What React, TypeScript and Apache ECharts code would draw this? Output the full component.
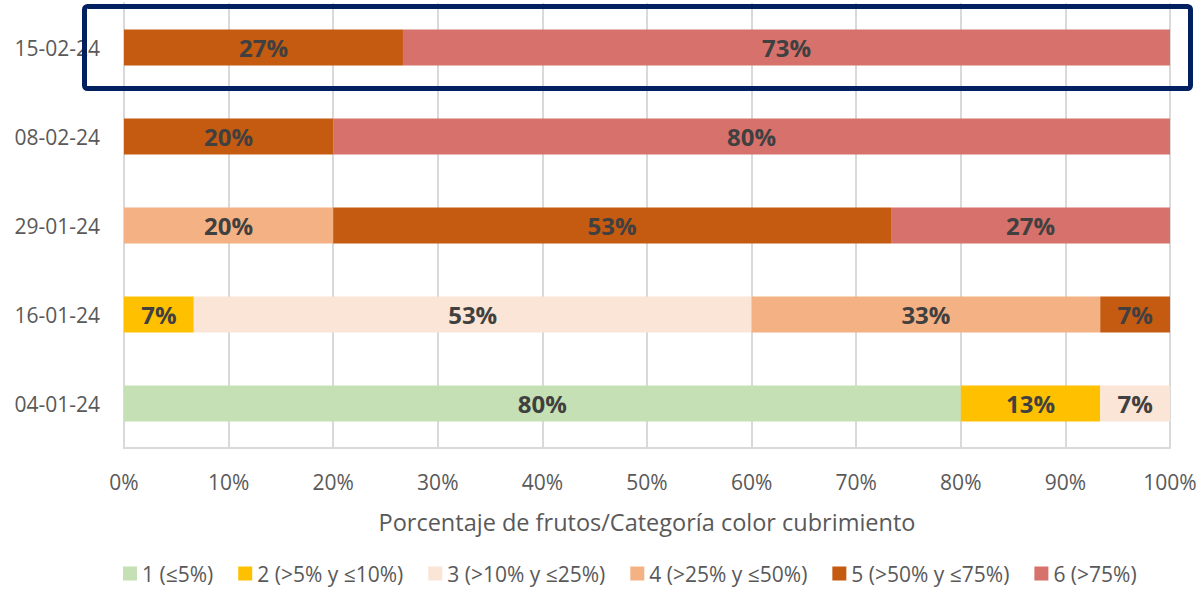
import React, { useEffect, useRef } from "react";
import * as echarts from "echarts";

const categories = ["04-01-24", "16-01-24", "29-01-24", "08-02-24", "15-02-24"];
const seriesNames = [
  "1 (≤5%)",
  "2 (>5% y ≤10%)",
  "3 (>10% y ≤25%)",
  "4 (>25% y ≤50%)",
  "5 (>50% y ≤75%)",
  "6 (>75%)",
];
const colors = ["#c5e0b4", "#ffc000", "#fbe5d6", "#f4b183", "#c55a11", "#d6716c"];
const cat1 = [80, null, null, null, null];
const cat2 = [13.33, 6.67, null, null, null];
const cat3 = [6.67, 53.33, null, null, null];
const cat4 = [null, 33.33, 20, null, null];
const cat5 = [null, 6.67, 53.33, 20, 26.67];
const cat6 = [null, null, 26.67, 80, 73.33];
const seriesData = [cat1, cat2, cat3, cat4, cat5, cat6];
const xTicks = [0, 10, 20, 30, 40, 50, 60, 70, 80, 90, 100];
const axisTitle = "Porcentaje de frutos/Categoría color cubrimiento";

const FONT = "'Open Sans', 'Noto Sans', sans-serif";

export default function App() {
  const ref = useRef<HTMLDivElement>(null);
  useEffect(() => {
    if (!ref.current) return;
    const chart = echarts.init(ref.current, undefined, { renderer: "svg" });
    chart.setOption({
      animation: false,
      textStyle: { fontFamily: FONT },
      grid: { left: 124, right: 31, top: 3, bottom: 141, containLabel: false },
      legend: {
        top: 563,
        left: 123,
        padding: 0,
        itemWidth: 14,
        itemHeight: 14,
        itemGap: 25,
        icon: "rect",
        textStyle: { fontSize: 21, color: "#595959", fontFamily: FONT },
        data: seriesNames,
      },
      xAxis: {
        type: "value",
        min: xTicks[0],
        max: xTicks[xTicks.length - 1],
        interval: 10,
        name: axisTitle,
        nameLocation: "middle",
        nameGap: 62,
        nameTextStyle: { fontSize: 23.5, color: "#595959", fontFamily: FONT },
        axisLine: { show: true, lineStyle: { color: "#d9d9d9", width: 2 } },
        axisTick: { show: false },
        axisLabel: {
          formatter: (v: number) => v + "%",
          fontSize: 21,
          color: "#595959",
          margin: 23,
          fontFamily: FONT,
        },
        splitLine: { show: true, lineStyle: { color: "#d9d9d9", width: 2 } },
      },
      yAxis: {
        type: "category",
        data: categories,
        axisLine: { show: true, lineStyle: { color: "#d9d9d9", width: 2 } },
        axisTick: { show: false },
        axisLabel: { fontSize: 21, color: "#595959", margin: 24, fontFamily: FONT },
        splitLine: { show: false },
      },
      series: seriesNames.map((name, i) => ({
        name,
        type: "bar",
        stack: "total",
        barWidth: 36,
        data: seriesData[i],
        itemStyle: { color: colors[i] },
        label: {
          show: true,
          position: "inside",
          formatter: (p: any) => Math.round(p.value) + "%",
          fontSize: 24,
          fontWeight: "bold",
          color: "#404040",
          fontFamily: FONT,
        },
      })),
      graphic: [
        {
          type: "rect",
          z: 100,
          shape: { x: 84.5, y: 6.5, width: 1106, height: 82, r: 3 },
          style: { fill: "none", stroke: "#002060", lineWidth: 5 },
        },
      ],
    });
    return () => chart.dispose();
  }, []);
  return (
    <div
      ref={ref}
      style={{ position: "absolute", left: 0, top: 0, width: 1201, height: 589 }}
    />
  );
}
